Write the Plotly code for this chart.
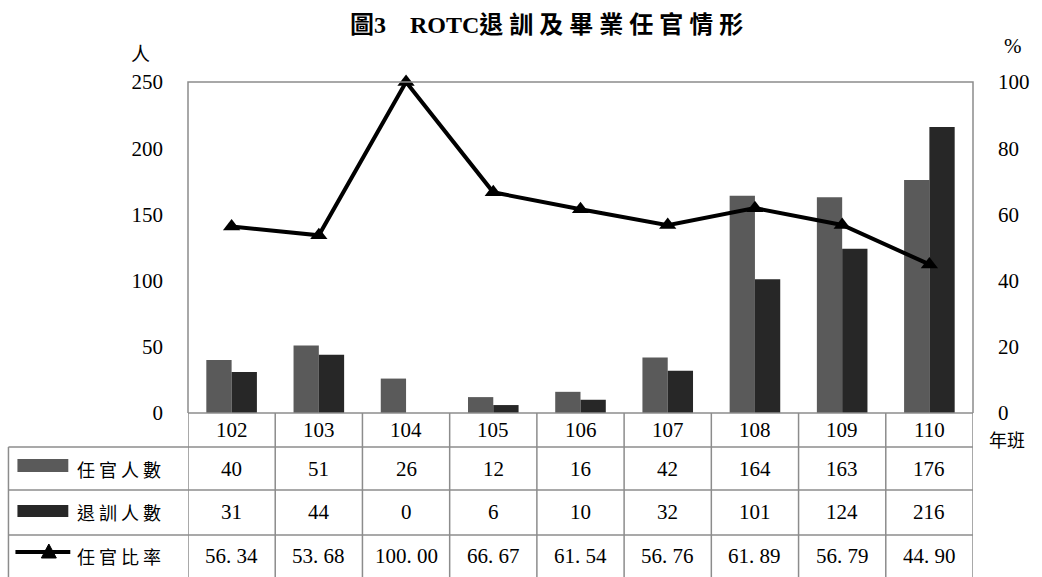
import plotly.graph_objects as go

categories = ["102", "103", "104", "105", "106", "107", "108", "109", "110"]
commissioned = [40, 51, 26, 12, 16, 42, 164, 163, 176]
dropped = [31, 44, 0, 6, 10, 32, 101, 124, 216]
rate = [56.34, 53.68, 100.00, 66.67, 61.54, 56.76, 61.89, 56.79, 44.90]
row_labels = ["任 官 人 數", "退 訓 人 數", "任 官 比 率"]
left_ticks = [0, 50, 100, 150, 200, 250]
right_ticks = [0, 20, 40, 60, 80, 100]

W, H = 1042, 577
L, R, T, B = 188, 975, 82, 413
PW, PH = R - L, B - T

def px(x):
    return (x - L) / PW

def py(y):
    return (B - y) / PH

GRID = "#8c8c8c"
C1 = "#5a5a5a"
C2 = "#272727"
NUMFONT = "Liberation Serif, Noto Sans CJK TC, serif"
CJKFONT = "Noto Sans CJK TC, sans-serif"

xs = list(range(len(categories)))

fig = go.Figure()
fig.add_trace(go.Bar(x=xs, y=commissioned, marker=dict(color=C1, line=dict(width=0)), name="任官人數"))
fig.add_trace(go.Bar(x=xs, y=dropped, marker=dict(color=C2, line=dict(width=0)), name="退訓人數"))
fig.add_trace(go.Scatter(x=xs, y=rate, yaxis="y2", mode="lines+markers",
                         line=dict(color="black", width=4),
                         marker=dict(symbol="triangle-up", size=15, color="black"),
                         cliponaxis=False, name="任官比率"))

LW = 1.5
shapes = []
# plot frame (left, top, right)
shapes.append(dict(type="path", xref="paper", yref="paper",
                   path="M 0 0 L 0 1 L 1 1 L 1 0", line=dict(color=GRID, width=LW)))
# horizontal table lines
for yy, x0 in [(413, L), (447, 8), (490, 8), (535, 8)]:
    shapes.append(dict(type="path", xref="paper", yref="paper",
                       path=f"M {px(x0)} {py(yy)} L 1 {py(yy)}", line=dict(color=GRID, width=LW)))
# vertical table lines between columns
for i in range(len(categories) + 1):
    shapes.append(dict(type="line", xref="x", yref="paper", x0=i - 0.5, x1=i - 0.5,
                       y0=py(413), y1=py(577), line=dict(color=GRID, width=LW)))
# left border of legend column
shapes.append(dict(type="path", xref="paper", yref="paper",
                   path=f"M {px(8)} {py(447)} L {px(8)} {py(577)}", line=dict(color=GRID, width=LW)))
# legend symbols
shapes.append(dict(type="rect", xref="paper", yref="paper", x0=px(17), x1=px(68),
                   y0=py(472), y1=py(459), fillcolor=C1, line=dict(width=0)))
shapes.append(dict(type="rect", xref="paper", yref="paper", x0=px(17), x1=px(68),
                   y0=py(517), y1=py(505), fillcolor=C2, line=dict(width=0)))
shapes.append(dict(type="path", xref="paper", yref="paper",
                   path=f"M {px(15)} {py(552)} L {px(70)} {py(552)}", line=dict(color="black", width=4)))
shapes.append(dict(type="path", xref="paper", yref="paper",
                   path=f"M {px(41)} {py(558)} L {px(56)} {py(558)} L {px(48.5)} {py(544)} Z",
                   fillcolor="black", line=dict(color="black", width=1)))

def ann(x, y, text, font, xref="paper", xanchor="center"):
    return dict(x=x, xref=xref, y=y, yref="paper", text=text, showarrow=False,
                xanchor=xanchor, yanchor="middle", font=font)

numf = dict(family=NUMFONT, size=21, color="black")
annotations = []
row_y = [430, 469, 512, 556]
for i, c in enumerate(categories):
    annotations.append(ann(i, py(row_y[0]), c, numf, xref="x"))
    annotations.append(ann(i, py(row_y[1]), str(commissioned[i]), numf, xref="x"))
    annotations.append(ann(i, py(row_y[2]), str(dropped[i]), numf, xref="x"))
    annotations.append(ann(i, py(row_y[3]), f"{rate[i]:.2f}".replace(".", ". "), numf, xref="x"))
for k, lab in enumerate(row_labels):
    annotations.append(ann(px(75), py(row_y[k + 1]), lab,
                           dict(family=CJKFONT, size=18, color="black"), xanchor="left"))
annotations.append(ann(px(140), py(53), "人", dict(family=CJKFONT, size=19, color="black")))
annotations.append(ann(px(1015), py(46), "%", numf))
annotations.append(ann(px(1009), py(439), "年班", dict(family=CJKFONT, size=18, color="black")))
annotations.append(ann(px(547), py(25), "<b>圖3　ROTC退 訓 及 畢 業 任 官 情 形</b>",
                       dict(family="Liberation Serif, Noto Sans CJK TC, serif", size=24, color="black")))

fig.update_layout(
    width=W, height=H,
    margin=dict(l=L, r=W - R, t=T, b=H - B, pad=0),
    paper_bgcolor="white", plot_bgcolor="white",
    barmode="group", bargap=0.42, bargroupgap=0,
    showlegend=False,
    xaxis=dict(range=[-0.5, len(categories) - 0.5], showticklabels=False, showgrid=False,
               zeroline=False, showline=False, ticks=""),
    yaxis=dict(range=[0, 250], tickvals=left_ticks, showgrid=False, zeroline=False, showline=False,
               ticks="", ticklabelstandoff=24,
               tickfont=dict(family=NUMFONT, size=21, color="black")),
    yaxis2=dict(range=[0, 100], tickvals=right_ticks, overlaying="y", side="right", showgrid=False,
                zeroline=False, showline=False, ticks="", ticklabelstandoff=24,
                tickfont=dict(family=NUMFONT, size=21, color="black")),
    shapes=shapes, annotations=annotations,
)

fig.write_html("out.html", config={"displayModeBar": False},
               post_script="document.body.style.margin='0';")
